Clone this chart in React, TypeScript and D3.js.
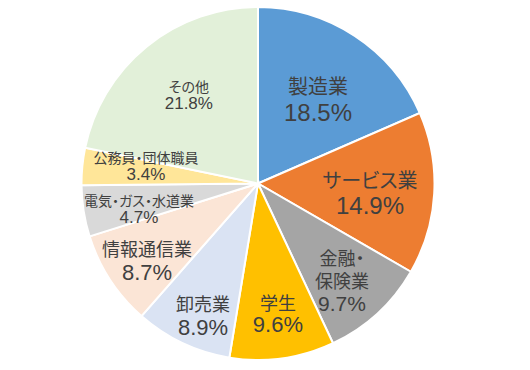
import React from 'react';
import * as d3 from 'd3';

// slices clockwise from 12 o'clock
const categories = ['製造業', 'サービス業', '金融・保険業', '学生', '卸売業', '情報通信業', '電気・ガス・水道業', '公務員・団体職員', 'その他'];
const labelLines = [['製造業'], ['サービス業'], ['金融・', '保険業'], ['学生'], ['卸売業'], ['情報通信業'], ['電気・ガス・水道業'], ['公務員・団体職員'], ['その他']];
const shares = [18.5, 14.9, 9.7, 9.6, 8.9, 8.7, 4.7, 3.4, 21.8];

const colors = ['#5B9BD5', '#ED7D31', '#A5A5A5', '#FFC000', '#DAE3F3', '#FBE5D6', '#D9D9D9', '#FFE699', '#E2F0D9'];
// label placement: distance (fraction of radius) and angle nudge in degrees
const labelK = [0.585, 0.637, 0.725, 0.745, 0.81, 0.765, 0.69, 0.643, 0.637];
const labelNudge = [2.3, 1.6, 1.6, -0.8, -2.7, -1.7, -3.1, 3.5, 1.2];
const nameSize = [20, 20, 18, 18, 18, 18, 14, 14, 14];
const pctSize = [24, 24, 21, 22, 22, 22, 17, 17, 17];
const lineGap = [27, 26, 23, 23, 25, 25, 18, 17, 18];

const W = 530;
const H = 370;

export default function App() {
  const cx = 258;
  const cy = 183.5;
  const r = 176.5;

  const data = categories.map((name, i) => ({ name, value: shares[i], i }));
  const pie = d3.pie<any>().value((d) => d.value).sort(null);
  const arcs = pie(data);
  const arc = d3.arc<any>().innerRadius(0).outerRadius(r);

  return (
    <svg width={W} height={H} style={{ position: 'absolute', left: 0, top: 0, background: '#fff' }}>
      <g transform={`translate(${cx},${cy})`}>
        {arcs.map((a, i) => (
          <path key={i} d={arc(a) as string} fill={colors[i]} stroke="#fff" strokeWidth={2} />
        ))}
        {arcs.map((a, i) => {
          const mid = (a.startAngle + a.endAngle) / 2 + (labelNudge[i] * Math.PI) / 180;
          const lr = r * labelK[i];
          const x = Math.sin(mid) * lr;
          const y = -Math.cos(mid) * lr;
          const lines = labelLines[i];
          const gap = lineGap[i];
          // centre of the whole block sits at (x, y)
          const top = y - (gap * lines.length) / 2;
          return (
            <g key={'l' + i} fill="#404040" textAnchor="middle" dominantBaseline="central">
              {lines.map((t, j) => (
                <text key={j} x={x} y={top + gap * j} fontSize={nameSize[i]}
                  fontFamily="'Noto Sans CJK JP', sans-serif"
                  style={{ fontFeatureSettings: '"palt"' }}>{t}</text>
              ))}
              <text x={x} y={top + gap * lines.length} fontSize={pctSize[i]}
                fontFamily="'Liberation Sans', Arial, sans-serif">
                {shares[i].toFixed(1)}%
              </text>
            </g>
          );
        })}
      </g>
    </svg>
  );
}
